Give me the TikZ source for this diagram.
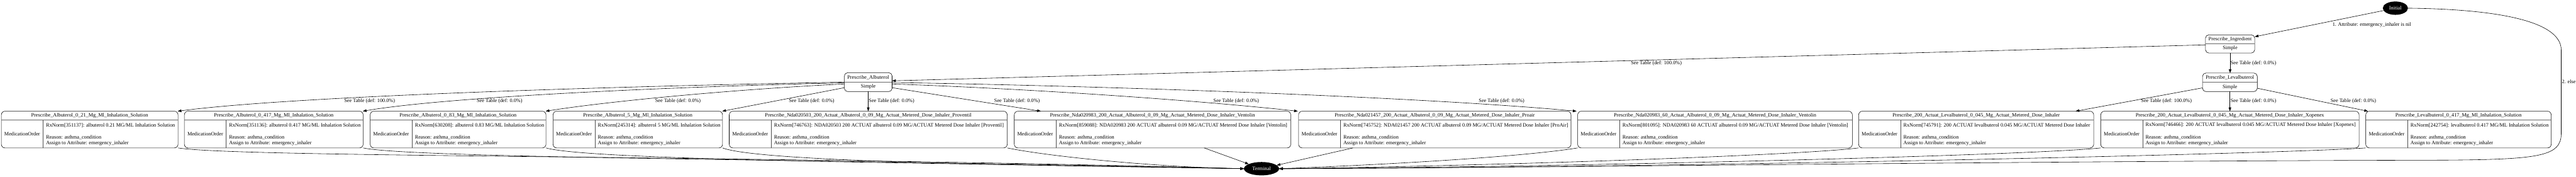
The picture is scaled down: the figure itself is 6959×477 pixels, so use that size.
\documentclass[tikz,border=0pt]{standalone}
\usepackage{fontspec}
\setmainfont{Liberation Serif}
\usetikzlibrary{arrows.meta,shapes.geometric}

\tikzset{
  every node/.style={font=\fontsize{14}{16}\selectfont, inner sep=0pt, outer sep=0pt},
  medbox/.style={draw, rounded corners=10pt, minimum height=99pt, line width=1pt},
  simplebox/.style={draw, rounded corners=9pt, line width=1pt},
  sepline/.style={draw=black!60, line width=2pt},
  colline/.style={draw=black!70, line width=0.8pt},
  edge/.style={draw, line width=1pt, -{Triangle[length=10pt,width=7pt]}},
  termnode/.style={ellipse, fill=black, text=white, minimum width=95pt, minimum height=36pt},
  initnode/.style={ellipse, fill=black, text=white, minimum width=68pt, minimum height=36pt},
  elabel/.style={anchor=west},
}

\newcommand{\drawmedbox}[5]{%
  \node[medbox, minimum width={#3-#2}] (#1) at ({(#2+#3)/2},349.5) {};
  \draw[sepline] (#2+0.5,324) -- (#3-0.5,324);
  \draw[colline] (#2+113,324) -- (#2+113,399);
  \node at ({(#2+#3)/2},312) {#4};
  \node at (#2+56.5,362) {MedicationOrder};
  \node[anchor=west] at (#2+121,338) {#5};
  \node[anchor=west] at (#2+121,370) {Reason: asthma\_condition};
  \node[anchor=west] at (#2+121,387) {Assign to Attribute: emergency\_inhaler};
}

\newcommand{\drawsimplebox}[6]{%
  \node[simplebox, minimum width={#3-#2}, minimum height={#5-#4}] (#1) at ({(#2+#3)/2},{(#4+#5)/2}) {};
  \draw[sepline] (#2+0.5,{(#4+#5)/2}) -- (#3-0.5,{(#4+#5)/2});
  \node at ({(#2+#3)/2},{(3*#4+#5)/4}) {#6};
  \node at ({(#2+#3)/2},{(#4+3*#5)/4}) {Simple};
}

\begin{document}
\begin{tikzpicture}[x=1pt,y=-1pt]
\useasboundingbox (0,0) rectangle (6959,477);

% state nodes
\node[initnode] (init) at (6471,22) {Initial};
\node[termnode] (term) at (3408,455) {Terminal};

\drawsimplebox{ing}{5958}{6091}{94}{143}{Prescribe\_Ingredient}
\drawsimplebox{lev}{5950}{6098}{197}{247}{Prescribe\_Levalbuterol}
\drawsimplebox{alb}{2281}{2410}{196}{247}{Prescribe\_Albuterol}

\drawmedbox{b1}{3.5}{481}{Prescribe\_Albuterol\_0\_21\_Mg\_Ml\_Inhalation\_Solution}{RxNorm[351137]: albuterol 0.21 MG/ML Inhalation Solution}
\drawmedbox{b2}{498}{981}{Prescribe\_Albuterol\_0\_417\_Mg\_Ml\_Inhalation\_Solution}{RxNorm[351136]: albuterol 0.417 MG/ML Inhalation Solution}
\drawmedbox{b3}{1000}{1475}{Prescribe\_Albuterol\_0\_83\_Mg\_Ml\_Inhalation\_Solution}{RxNorm[630208]: albuterol 0.83 MG/ML Inhalation Solution}
\drawmedbox{b4}{1494}{1952}{Prescribe\_Albuterol\_5\_Mg\_Ml\_Inhalation\_Solution}{RxNorm[245314]: albuterol 5 MG/ML Inhalation Solution}
\drawmedbox{b5}{1970}{2721}{Prescribe\_Nda020503\_200\_Actuat\_Albuterol\_0\_09\_Mg\_Actuat\_Metered\_Dose\_Inhaler\_Proventil}{RxNorm[746763]: NDA020503 200 ACTUAT albuterol 0.09 MG/ACTUAT Metered Dose Inhaler [Proventil]}
\drawmedbox{b6}{2740}{3487}{Prescribe\_Nda020983\_200\_Actuat\_Albuterol\_0\_09\_Mg\_Actuat\_Metered\_Dose\_Inhaler\_Ventolin}{RxNorm[859088]: NDA020983 200 ACTUAT albuterol 0.09 MG/ACTUAT Metered Dose Inhaler [Ventolin]}
\drawmedbox{b7}{3508}{4244}{Prescribe\_Nda021457\_200\_Actuat\_Albuterol\_0\_09\_Mg\_Actuat\_Metered\_Dose\_Inhaler\_Proair}{RxNorm[745752]: NDA021457 200 ACTUAT albuterol 0.09 MG/ACTUAT Metered Dose Inhaler [ProAir]}
\drawmedbox{b8}{4262}{5004}{Prescribe\_Nda020983\_60\_Actuat\_Albuterol\_0\_09\_Mg\_Actuat\_Metered\_Dose\_Inhaler\_Ventolin}{RxNorm[801095]: NDA020983 60 ACTUAT albuterol 0.09 MG/ACTUAT Metered Dose Inhaler [Ventolin]}
\drawmedbox{b9}{5021}{5656}{Prescribe\_200\_Actuat\_Levalbuterol\_0\_045\_Mg\_Actuat\_Metered\_Dose\_Inhaler}{RxNorm[745791]: 200 ACTUAT levalbuterol 0.045 MG/ACTUAT Metered Dose Inhaler}
\drawmedbox{b10}{5675}{6373}{Prescribe\_200\_Actuat\_Levalbuterol\_0\_045\_Mg\_Actuat\_Metered\_Dose\_Inhaler\_Xopenex}{RxNorm[746466]: 200 ACTUAT levalbuterol 0.045 MG/ACTUAT Metered Dose Inhaler [Xopenex]}
\drawmedbox{b11}{6391}{6892}{Prescribe\_Levalbuterol\_0\_417\_Mg\_Ml\_Inhalation\_Solution}{RxNorm[242754]: levalbuterol 0.417 MG/ML Inhalation Solution}

% Initial edges
\draw[edge] (init) -- ([yshift=-5pt]ing.north east);
\node[elabel] at (6301,67) {1. Attribute: emergency\_inhaler is nil};
\draw[edge] (init.east) .. controls (6760,25) and (6919,60) .. (6919,135) -- (6919,360)
  .. controls (6919,422) and (6860,430) .. (6600,432)
  .. controls (5500,434) and (4200,452) .. (term.east);
\node[elabel] at (6921,220) {2. else};

% Prescribe_Ingredient edges
\draw[edge] ([yshift=-2.5pt]ing.west) -- ([yshift=3.5pt]alb.east);
\node[elabel] at (4406,170) {See Table (def: 100.0\%)};
\draw[edge] (ing.south) -- (ing.south |- lev.north);
\node[elabel] at (6026,171) {See Table (def: 0.0\%)};

% Prescribe_Albuterol edges
\draw[edge] (alb.west) .. controls (1700,232) and (800,258) .. ([xshift=-1pt]b1.north east);
\node[elabel] at (930,273) {See Table (def: 100.0\%)};
\draw[edge] ([yshift=-2pt]alb.west) .. controls (1800,234) and (1200,262) .. ([xshift=-1pt]b2.north east);
\node[elabel] at (1288,273) {See Table (def: 0.0\%)};
\draw[edge] ([yshift=-5pt]alb.west) .. controls (2000,240) and (1650,272) .. ([xshift=-1pt]b3.north east);
\node[elabel] at (1770,273) {See Table (def: 0.0\%)};
\draw[edge] ([yshift=-15pt]alb.west) -- ([xshift=-1pt]b4.north east);
\node[elabel] at (2131,273) {See Table (def: 0.0\%)};
\draw[edge] (alb.south) -- (alb.south |- b5.north);
\node[elabel] at (2347,273) {See Table (def: 0.0\%)};
\draw[edge] ([yshift=-15pt]alb.east) -- ([xshift=72pt]b6.north west);
\node[elabel] at (2686,273) {See Table (def: 0.0\%)};
\draw[edge] ([yshift=-5pt]alb.east) .. controls (2800,240) and (3250,272) .. ([xshift=-2pt]b7.north west);
\node[elabel] at (3278,273) {See Table (def: 0.0\%)};
\draw[edge] ([yshift=-1pt]alb.east) .. controls (3000,232) and (3850,262) .. ([xshift=-3pt]b8.north west);
\node[elabel] at (3995,273) {See Table (def: 0.0\%)};

% Prescribe_Levalbuterol edges
\draw[edge] ([yshift=-15pt]lev.west) -- ([xshift=-49pt]b9.north east);
\node[elabel] at (5784,273) {See Table (def: 100.0\%)};
\draw[edge] (lev.south) -- (lev.south |- b10.north);
\node[elabel] at (6026,273) {See Table (def: 0.0\%)};
\draw[edge] ([yshift=-16pt]lev.east) -- ([xshift=6pt]b11.north west);
\node[elabel] at (6296,273) {See Table (def: 0.0\%)};

% edges into Terminal
\draw[edge] (b1.south east) .. controls (650,425) and (2000,418) .. (term.west);
\draw[edge] (b2.south east) .. controls (1120,428) and (2300,430) .. (term.west);
\draw[edge] (b3.south east) .. controls (1600,434) and (2600,440) .. (term.west);
\draw[edge] (b4.south east) .. controls (2060,440) and (2900,447) .. (term.west);
\draw[edge] (b5.south east) .. controls (2850,425) and (3150,452) .. (term.west);
\draw[edge] ([xshift=513pt]b6.south west) -- (term);
\draw[edge] ([xshift=147pt]b7.south west) -- (term);
\draw[edge] (b8.south west) .. controls (4100,425) and (3700,446) .. (term.east);
\draw[edge] (b9.south west) .. controls (4850,420) and (4000,448) .. (term.east);
\draw[edge] (b10.south west) .. controls (5500,418) and (4300,450) .. (term.east);
\draw[edge] (b11.south west) .. controls (6200,413) and (4700,450) .. (term.east);
\end{tikzpicture}
\end{document}
